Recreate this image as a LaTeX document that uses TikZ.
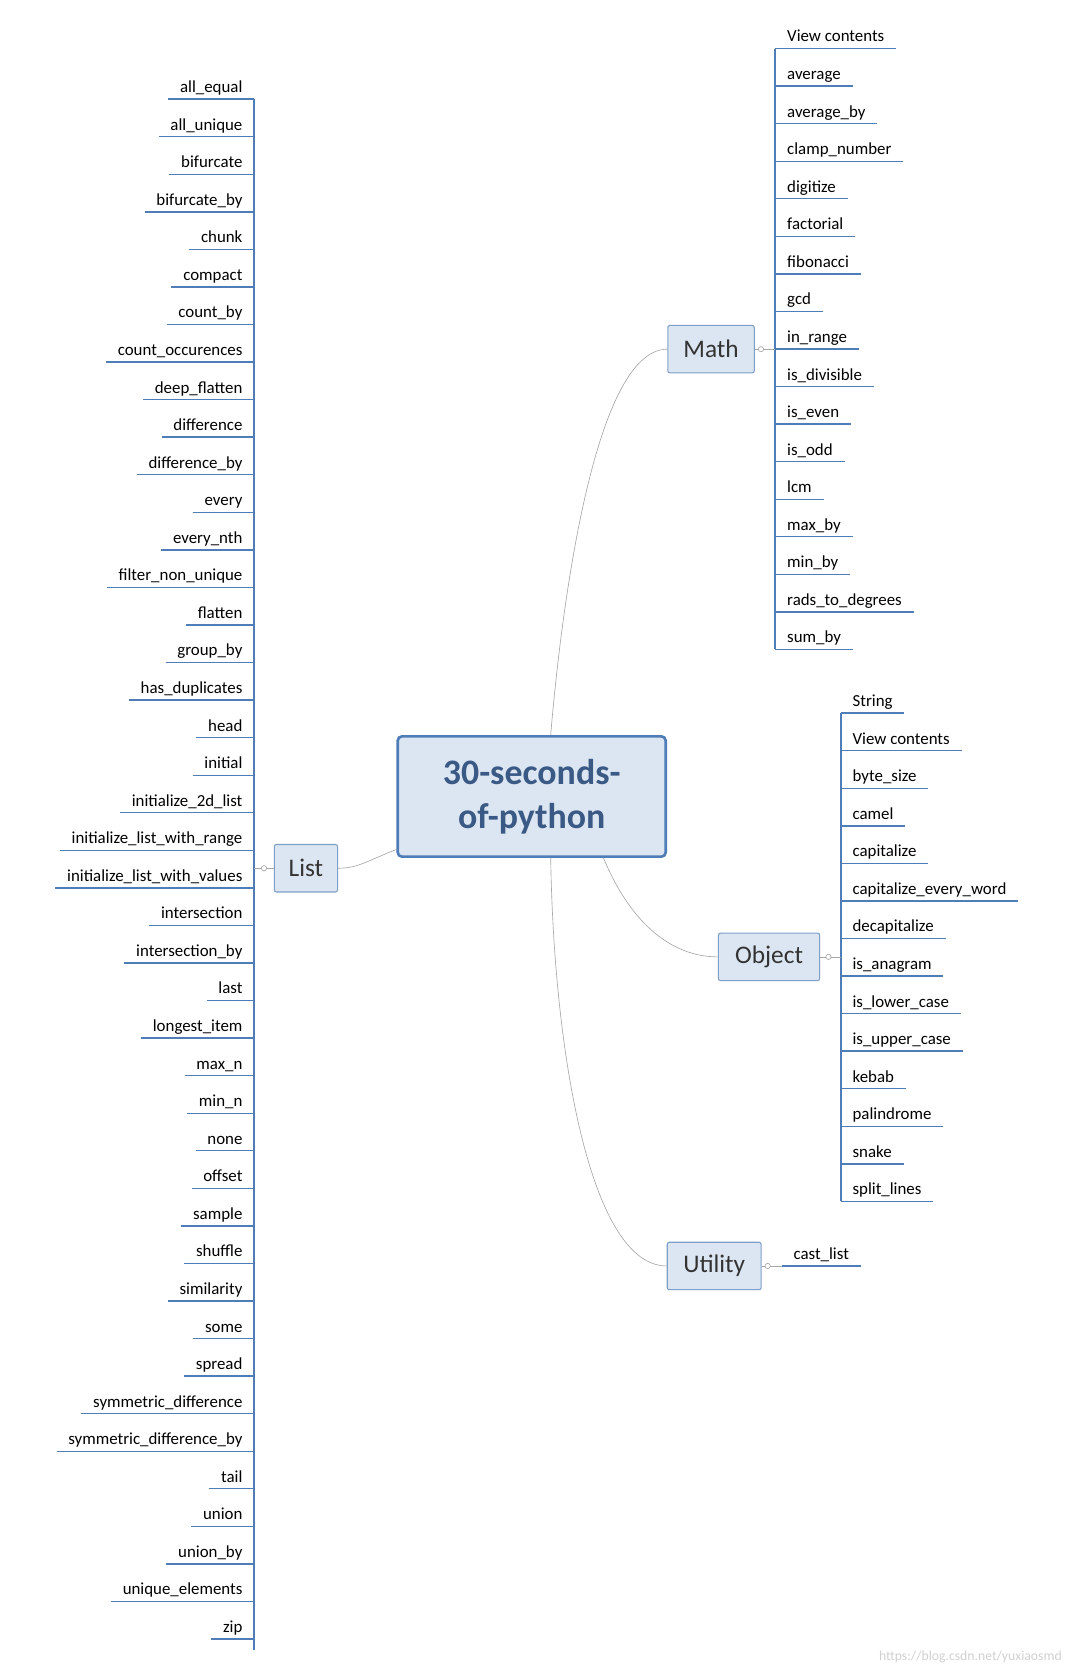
\documentclass[tikz,border=0pt]{standalone}
\usepackage{fontspec}
\setmainfont{Carlito}
\definecolor{ul}{HTML}{4F7DB8}
\definecolor{nfill}{HTML}{DCE6F2}
\definecolor{nbord}{HTML}{7E9FC8}
\definecolor{ctext}{HTML}{3A5A85}
\begin{document}
\begin{tikzpicture}[x=1pt,y=-1pt,
  item/.style={font=\fontsize{16}{18}\selectfont,inner xsep=11pt,inner ysep=3pt,text height=12pt,text depth=3pt},
  uline/.style={ul,line width=1.3pt},
  topic/.style={draw=nbord,fill=nfill,line width=1pt,rounded corners=2pt,font=\fontsize{24}{26}\selectfont,text=black!80,minimum height=45pt,inner xsep=12pt},
  conn/.style={draw=black!35,line width=0.6pt},
  knob/.style={draw=black!35,fill=white,circle,inner sep=0pt,minimum size=5pt}]
\useasboundingbox (0,0) rectangle (1024,1583);
\fill[white] (0,0) rectangle (1024,1583);
% center
\node[draw=ul,fill=nfill,line width=2.5pt,rounded corners=4pt,minimum width=254pt,minimum height=114pt,
  font=\fontsize{34}{42}\selectfont\bfseries,text=ctext,align=center] (root) at (504,755) {30-seconds-\\of-python};
% topics
\node[topic,minimum width=60pt] (list) at (290,823) {List};
\node[topic,minimum width=82pt] (math) at (674,331) {Math};
\node[topic,minimum width=96pt] (obj) at (729,907) {Object};
\node[topic,minimum width=89pt] (util) at (677,1200) {Utility};
\draw[conn] ([xshift=18pt]root.north) .. controls (530,600) and (560,331) .. (math.west);
\draw[conn] (root.south west) ++(0,-8) coordinate (rl) (rl) .. controls (350,815) and (340,823) .. (list.east);
\draw[conn] ([xshift=68pt]root.south) .. controls (600,880) and (640,907) .. (obj.west);
\draw[conn] ([xshift=18pt]root.south) .. controls (525,1000) and (560,1200) .. (util.west);
% List items
\foreach \t [count=\i from 0] in {all\_equal,all\_unique,bifurcate,bifurcate\_by,chunk,compact,count\_by,count\_occurences,deep\_flatten,difference,difference\_by,every,every\_nth,filter\_non\_unique,flatten,group\_by,has\_duplicates,head,initial,initialize\_2d\_list,initialize\_list\_with\_range,initialize\_list\_with\_values,intersection,intersection\_by,last,longest\_item,max\_n,min\_n,none,offset,sample,shuffle,similarity,some,spread,symmetric\_difference,symmetric\_difference\_by,tail,union,union\_by,unique\_elements,zip}{
  \node[item,anchor=south east] (L\i) at (241,{78+35.6*\i+16}) {\t};
  \draw[uline] (L\i.south west) -- (L\i.south east);
}
\draw[uline,line width=2pt] (L0.south east) -- ([yshift=-10pt]L41.south east);
\draw[conn] (241,823) -- (list.west) node[knob,pos=0.5] (lk) {};
% Math items
\foreach \t [count=\i from 0] in {View contents,average,average\_by,clamp\_number,digitize,factorial,fibonacci,gcd,in\_range,is\_divisible,is\_even,is\_odd,lcm,max\_by,min\_by,rads\_to\_degrees,sum\_by}{
  \node[item,anchor=south west] (M\i) at (735,{30+35.6*\i+16}) {\t};
  \draw[uline] (M\i.south west) -- (M\i.south east);
}
\draw[uline,line width=2pt] (M0.south west) -- (M16.south west);
\draw[conn] (math.east) -- (735,331) node[knob,pos=0.3] (mk) {};
% Object items
\foreach \t [count=\i from 0] in {String,View contents,byte\_size,camel,capitalize,capitalize\_every\_word,decapitalize,is\_anagram,is\_lower\_case,is\_upper\_case,kebab,palindrome,snake,split\_lines}{
  \node[item,anchor=south west] (O\i) at (797,{660+35.6*\i+16}) {\t};
  \draw[uline] (O\i.south west) -- (O\i.south east);
}
\draw[uline,line width=2pt] (O0.south west) -- (O13.south west);
\draw[conn] (obj.east) -- (797,907) node[knob,pos=0.4] (ok) {};
% Utility
\node[item,anchor=south west] (U0) at (741,1200) {cast\_list};
\draw[uline] (U0.south west) -- (U0.south east);
\draw[conn] (util.east) -- (U0.south west) node[knob,pos=0.3] (uk) {};
\node[font=\fontsize{13}{15}\selectfont,text=black!18,anchor=south east] (wm) at (1010,1580) {https://blog.csdn.net/yuxiaosmd};
\end{tikzpicture}
\end{document}
